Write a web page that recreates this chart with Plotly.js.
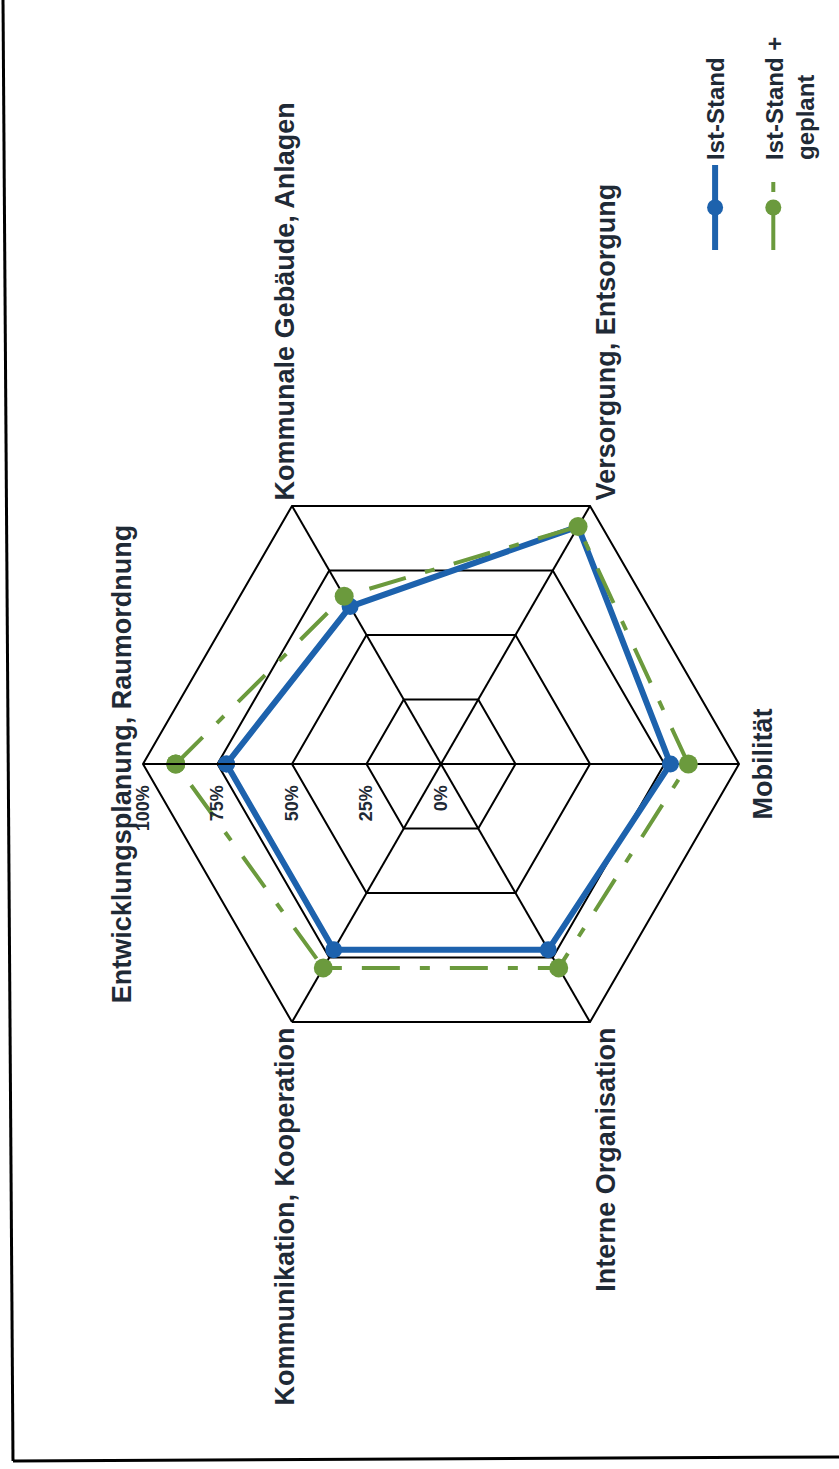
<!DOCTYPE html>
<html>
<head>
<meta charset="utf-8">
<script src="https://cdn.plot.ly/plotly-3.0.1.min.js"></script>
<style>
  html, body { margin: 0; padding: 0; background: #ffffff; overflow: hidden; }
  #wrap { position: absolute; left: 0; top: 0; width: 839px; height: 1469px; overflow: hidden; background: #fff; }
  #chart { position: absolute; left: 0; top: 0; width: 1469px; height: 839px; transform-origin: 0 0; }
</style>
</head>
<body>
<div id="wrap"><div id="chart"></div></div>
<script>
// ---- data ----
const categories = [
  "Entwicklungsplanung, Raumordnung",
  "Kommunale Gebäude, Anlagen",
  "Versorgung, Entsorgung",
  "Mobilität",
  "Interne Organisation",
  "Kommunikation, Kooperation"
];
const istStand = [72, 61, 92, 77, 72, 72];
const istGeplant = [89, 65, 92, 83, 79, 79];
const seriesNames = ["Ist-Stand", "Ist-Stand +<br>geplant"];
const radialTicks = [0, 25, 50, 75, 100];
const radialTickText = ["0%", "25%", "50%", "75%", "100%"];

const W = 1469, H = 839;
const close = a => a.concat([a[0]]);
const textColor = "#1f2a36";
const font = "Liberation Sans, Arial, Helvetica, sans-serif";

const traces = [
  {
    type: "scatterpolar",
    name: seriesNames[0],
    r: close(istStand),
    theta: close(categories),
    mode: "lines+markers",
    line: { color: "#1d62ad", width: 6 },
    marker: { color: "#1d62ad", size: 17 },
    legendgroup: "a"
  },
  {
    type: "scatterpolar",
    name: seriesNames[1],
    r: close(istGeplant),
    theta: close(categories),
    mode: "lines+markers",
    line: { color: "#6b9a3d", width: 4, dash: "38px,20px,10px,20px" },
    marker: { color: "#6b9a3d", size: 19 },
    legendgroup: "b"
  }
];

// pixel -> paper helpers (unrotated frame) for the scan frame lines
const px = x => x / W;
const py = y => 1 - y / H;

const layout = {
  width: W, height: H,
  margin: { l: 0, r: 0, t: 0, b: 0 },
  paper_bgcolor: "#ffffff",
  font: { family: font, color: textColor },
  showlegend: true,
  legend: {
    x: px(1214), y: py(693), xanchor: "left", yanchor: "top",
    font: { family: font, size: 24, color: textColor, weight: "bold" },
    itemwidth: 85,
    valign: "top",
    tracegroupgap: 24,
    traceorder: "grouped",
    bgcolor: "rgba(0,0,0,0)"
  },
  polar: {
    domain: { x: [px(407), px(1003)], y: [py(739), py(143)] },
    bgcolor: "#ffffff",
    gridshape: "linear",
    angularaxis: {
      direction: "clockwise",
      rotation: 90,
      showline: true, linecolor: "#000", linewidth: 2,
      gridcolor: "#000", gridwidth: 2,
      ticks: "",
      tickfont: { family: font, size: 27, color: textColor, weight: "bold" }
    },
    radialaxis: {
      range: [0, 100],
      angle: 90,
      side: "counterclockwise",
      tickvals: radialTicks,
      ticktext: radialTickText,
      showline: true, linecolor: "#000", linewidth: 2,
      gridcolor: "#000", gridwidth: 2,
      ticks: "outside", ticklen: 14, tickcolor: "rgba(0,0,0,0)",
      tickangle: 90,
      tickfont: { family: font, size: 18, color: textColor, weight: "bold" }
    }
  },
  shapes: [
    { type: "line", xref: "paper", yref: "paper", x0: px(8), y0: py(13), x1: px(1469), y1: py(3), line: { color: "#000", width: 3 } },
    { type: "line", xref: "paper", yref: "paper", x0: px(8), y0: py(13), x1: px(12), y1: py(839), line: { color: "#000", width: 3 } }
  ]
};

Plotly.newPlot("chart", traces, layout, { displayModeBar: false, staticPlot: true }).then(() => {
  document.getElementById("chart").style.transform = "translateY(" + W + "px) rotate(-90deg)";
});
</script>
</body>
</html>
